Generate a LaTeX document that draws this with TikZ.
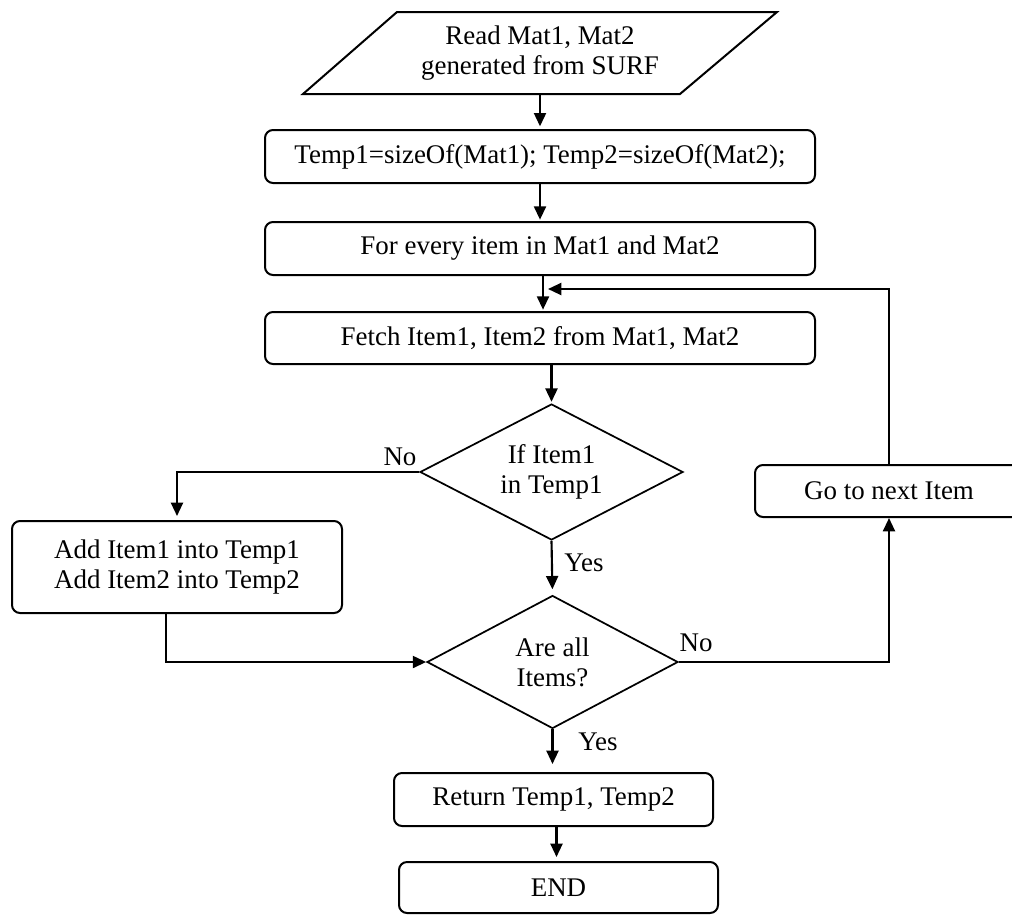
\documentclass[tikz,border=0pt]{standalone}
\usepackage{fontspec}
\setmainfont{Liberation Serif}
\usetikzlibrary{shapes.geometric,arrows.meta,calc}
\begin{document}
\begin{tikzpicture}[x=0.75pt,y=-0.75pt,
  every node/.style={font=\fontsize{20.2pt}{22.5pt}\selectfont},
  proc/.style={draw,line width=1.5pt,rounded corners=6pt,inner sep=0pt,align=center},
  dec/.style={draw,diamond,line width=1.3pt,inner sep=0pt,aspect=2,align=center},
  arr/.style={line width=1.6pt,-{Triangle[length=10pt,width=9pt]}},
  lbl/.style={inner sep=0pt}]
\path[use as bounding box] (0,0) rectangle (1012,914);
\clip (0,0) rectangle (1012,914);

% input parallelogram
\draw[line width=1.5pt] (397,12) -- (777,12) -- (680,94) -- (303,94) -- cycle;
\node[inner sep=0pt,align=center,minimum height={82*0.75pt}] (read) at (540,53) {Read Mat1, Mat2\\generated from SURF};

\node[proc,minimum width={550*0.75pt},minimum height={53*0.75pt}] (init) at (540,156.5) {Temp1=sizeOf(Mat1); Temp2=sizeOf(Mat2);};
\node[proc,minimum width={550*0.75pt},minimum height={53*0.75pt}] (forall) at (540,248.5) {For every item in Mat1 and Mat2};
\node[proc,minimum width={550*0.75pt},minimum height={52*0.75pt}] (fetch) at (540,338) {Fetch Item1, Item2 from Mat1, Mat2};
\node[dec,minimum width={263*0.75pt},minimum height={136*0.75pt}] (dec1) at (551.5,472) {If Item1\\in Temp1};
\node[proc,minimum width={330*0.75pt},minimum height={92*0.75pt}] (addb) at (177,567) {Add Item1 into Temp1\\Add Item2 into Temp2};
\node[proc,minimum width={268*0.75pt},minimum height={52*0.75pt}] (gonext) at (889,491) {Go to next Item};
\node[dec,minimum width={251*0.75pt},minimum height={133*0.75pt}] (dec2) at (552.5,662) {Are all\\Items?};
\node[proc,minimum width={319*0.75pt},minimum height={53*0.75pt}] (ret) at (553.5,799.5) {Return Temp1, Temp2};
\node[proc,minimum width={319*0.75pt},minimum height={51*0.75pt}] (endb) at (558.5,887.5) {END};

\coordinate (loopin) at (548,289);

% connectors
\draw[arr,shorten >=2pt] (read.south) -- (init.north);
\draw[arr,shorten >=1pt] (init.south) -- (forall.north);
\draw[arr,shorten >=1pt] ($(forall.south)+(3,0)$) -- ($(fetch.north)+(3,0)$);
\draw[arr,shorten >=1pt] (fetch.south -| dec1.north) -- (dec1.north);
\draw[arr,shorten >=3pt] (dec1.west) -| (addb.north);
\draw[arr,shorten >=4pt] (dec1.south) -- (dec2.north);
\draw[arr] ($(addb.south)+(-11,0)$) |- (dec2.west);
\draw[arr] (dec2.east) -| (gonext.south);
\draw[arr] (gonext.north) |- (loopin);
\draw[arr,shorten >=6pt] (dec2.south) -- (dec2.south |- ret.north);
\draw[arr,shorten >=3pt] ($(ret.south)+(3,0)$) -- ($(endb.north)+(-2,0)$);

% labels
\node[lbl] (no1) at (400,457) {No};
\node[lbl] (yes1) at (584,563) {Yes};
\node[lbl] (no2) at (696,643) {No};
\node[lbl] (yes2) at (598,742) {Yes};
\end{tikzpicture}
\end{document}
